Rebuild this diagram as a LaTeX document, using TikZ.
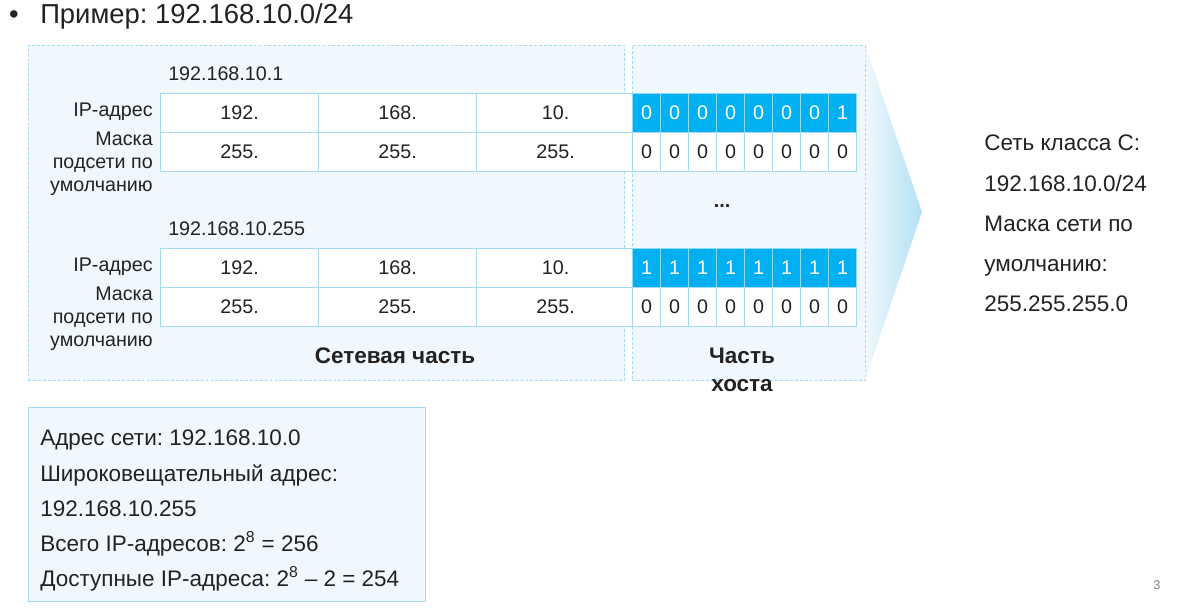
\documentclass[tikz,border=0pt]{standalone}
\usepackage{fontspec}
\setmainfont{Liberation Sans}
\usepackage{xcolor}
\usetikzlibrary{positioning}
\definecolor{ink}{HTML}{222222}
\definecolor{pale}{HTML}{F1F8FD}
\definecolor{edge}{HTML}{A3DBF4}
\definecolor{hostblue}{HTML}{00B0F0}
\frenchspacing

\begin{document}
\begin{tikzpicture}[x=0.025cm,y=-0.025cm,
  panel/.style={draw=edge,dash pattern=on 2pt off 1.5pt,fill=pale,line width=0.6pt},
  octet/.style={draw=edge,fill=white,line width=0.8pt,minimum width=3.95cm,minimum height=0.975cm,inner sep=0pt,anchor=north west,text=ink,font=\fontsize{14}{16}\selectfont},
  bitcell/.style={octet,minimum width=0.7cm},
  hostbit/.style={bitcell,fill=hostblue,draw=hostblue!45,text=white},
  lbl/.style={anchor=east,align=right,inner sep=0pt,text=ink,font=\fontsize{14}{16.4}\selectfont},
  addr/.style={anchor=west,inner sep=0pt,text=ink,font=\fontsize{14}{16}\selectfont},
  part/.style={align=center,inner sep=0pt,text=ink,font=\fontsize{16}{20}\selectfont\bfseries},
  info/.style={anchor=north west,align=left,inner sep=0pt,text=ink}
]
\fill[white] (0,0) rectangle (1195,611);
\useasboundingbox (0,0) rectangle (1195,611);

% title
\node[anchor=base,text=ink,font=\fontsize{19.5}{22}\selectfont] (dot) at (14,24) {•};
\node[anchor=base west,inner sep=0pt,text=ink,font=\fontsize{19.5}{22}\selectfont] (title) at (40,24) {Пример: 192.168.10.0/24};

% network / host panels and the pointer
\shade[left color=pale,right color=edge!85] (865,45) -- (922,212) -- (865,380) -- cycle;
\node[panel,anchor=north west,minimum width=14.9cm,minimum height=8.375cm,inner sep=0pt] (netpanel) at (28,45) {};
\node[panel,anchor=north west,minimum width=5.825cm,minimum height=8.375cm,inner sep=0pt] (hostpanel) at (632,45) {};

% two address tables
\foreach \t/\ty/\ip/\bit in {A/93/192.168.10.1/0,B/248/192.168.10.255/1}{
  \node[addr] (addr\t) at (168,\ty-19) {\ip};
  \node[lbl] (ipl\t) at (153,\ty+19) {IP-адрес};
  \node[lbl] (maskl\t) at (153,\ty+71) {Маска\\подсети по\\умолчанию};
  \foreach \c/\v [count=\i] in {160/192.,318/168.,476/10.}{
    \node[octet] (ip\t\i) at (\c,\ty) {\v};
    \node[octet] (mask\t\i) at (\c,\ty+39) {255.};
  }
  \foreach \i in {1,...,8}{
    \pgfmathtruncatemacro\b{\i==8 ? 1 : \bit}
    \node[hostbit] (hb\t\i) at ({632+28*(\i-1)},\ty) {\b};
    \node[bitcell] (mb\t\i) at ({632+28*(\i-1)},\ty+39) {0};
  }
}
\node[text=ink,font=\fontsize{14}{16}\selectfont\bfseries] (gap) at (722,206) {...};

\node[part] (netpart) at (395,356) {Сетевая часть};
\node[part] (hostpart) at (742,370) {Часть\\хоста};

% class C summary
\node[info,font=\fontsize{16}{28.5}\selectfont] (classc) at (984,135) {Сеть класса C:\\192.168.10.0/24\\Маска сети по\\умолчанию:\\255.255.255.0};

% counts
\node[draw=edge,fill=pale,line width=0.8pt,anchor=north west,minimum width=9.925cm,minimum height=4.85cm,inner sep=0pt] (sumbox) at (28,407) {};
\node[info,font=\fontsize{16}{24.9}\selectfont] (sumtext) at (40,430) {Адрес сети: 192.168.10.0\\Широковещательный адрес:\\192.168.10.255\\Всего IP-адресов: 2\textsuperscript{8} = 256\\Доступные IP-адреса: 2\textsuperscript{8} – 2 = 254};

\node[text=gray,font=\fontsize{9}{10}\selectfont] (pagenum) at (1157,585) {3};
\end{tikzpicture}
\end{document}
